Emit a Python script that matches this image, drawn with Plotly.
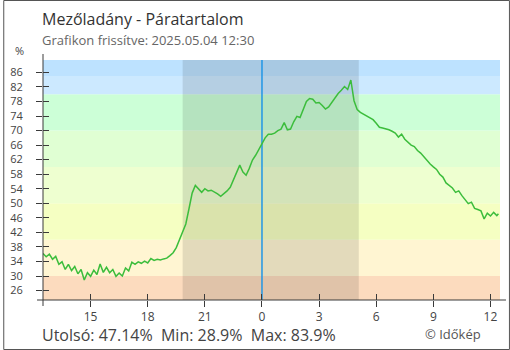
import pandas as pd
import plotly.graph_objects as go

# --- data -------------------------------------------------------------
station = "Mezőladány"
quantity = "Páratartalom"
updated = "2025.05.04 12:30"

series_start = "2025-05-03 12:30"
series_step = "10min"
# relative humidity (%), one reading every 10 minutes
humidity = [
    36.2, 35.3, 36.0,
    34.6, 35.4, 33.2, 33.9, 31.8, 33.2,
    31.5, 32.6, 30.6, 31.8, 28.9, 30.9,
    29.9, 31.6, 30.4, 33.3, 31.0, 32.4,
    30.9, 31.8, 29.9, 30.8, 30.0, 32.2,
    31.4, 33.8, 33.2, 33.9, 33.5, 34.1,
    33.6, 34.8, 34.3, 34.6, 34.4, 34.7,
    34.9, 35.6, 36.4, 37.8, 40.0, 41.8,
    44.3, 48.5, 52.8, 54.9, 53.8, 53.0,
    54.0, 53.4, 53.6, 53.2, 52.6, 51.9,
    52.6, 53.4, 54.4, 56.4, 58.6, 60.5,
    58.6, 57.7, 59.6, 61.9, 63.2, 64.8,
    66.6, 68.0, 69.0, 69.0, 69.3, 70.0,
    70.4, 72.2, 70.2, 70.4, 72.4, 73.9,
    73.6, 75.6, 78.0, 78.8, 78.6, 77.6,
    77.7, 76.9, 75.9, 76.5, 77.8, 79.2,
    80.2, 81.1, 82.1, 81.3, 83.9, 78.2,
    75.8, 75.0, 74.5, 74.1, 73.6, 73.0,
    72.0, 70.9, 70.7, 70.5, 70.2, 69.8,
    69.3, 68.2, 69.0, 67.6, 66.8, 66.0,
    65.6, 64.5, 63.8, 62.8, 61.5, 60.8,
    60.0, 59.3, 58.0, 57.2, 55.6, 54.8,
    54.2, 53.0, 53.4, 52.1, 51.0, 49.9,
    50.3, 48.6, 48.3, 47.9, 45.7, 47.3,
    46.5, 47.5, 46.6,
]
last_time = "2025-05-04 12:25"
last_value = 47.14

sunset = "2025-05-03 19:50"
sunrise = "2025-05-04 05:05"
midnight = "2025-05-04 00:00"

x_range = ["2025-05-03 12:30", "2025-05-04 12:30"]
y_range = [23.4, 89.4]
tick_times = ["2025-05-03 15:00", "2025-05-03 18:00", "2025-05-03 21:00",
              "2025-05-04 00:00", "2025-05-04 03:00", "2025-05-04 06:00",
              "2025-05-04 09:00", "2025-05-04 12:00"]
tick_labels = ["15", "18", "21", "0", "3", "6", "9", "12"]
y_tick0, y_dtick = 26, 4

# humidity bands (upper limits) and their fills, bottom to top
band_limits = [30, 40, 50, 60, 70, 80, 85]
band_colors = ["#fcdbbe", "#fff5d2", "#f5ffc2", "#eeffd0",
               "#e0ffd3", "#ccffd7", "#cce9ff", "#bde2ff"]

# --- figure -----------------------------------------------------------
times = list(pd.date_range(series_start, periods=len(humidity), freq=series_step))
times.append(pd.Timestamp(last_time))
values = humidity + [last_value]

FONT = "Open Sans, Noto Sans, DejaVu Sans, sans-serif"
AXIS = "#3a3a3a"
W, H = 510, 350
ML, MR, MT, MB = 40, 10, 60, 50
PW, PH = W - ML - MR, H - MT - MB


def px_x(px):
    return (px - ML) / PW


def px_y(py):
    return (MT + PH - py) / PH


fig = go.Figure()
fig.add_trace(go.Scatter(
    x=times, y=values, mode="lines",
    line=dict(color="#3cbd3c", width=1.5),
    showlegend=False, hoverinfo="skip",
))
# empty trace so the overlay axes (inner tick marks) get drawn
fig.add_trace(go.Scatter(x=[], y=[], xaxis="x2", yaxis="y2",
                         showlegend=False, hoverinfo="skip"))

shapes = []
lows = [y_range[0]] + band_limits
highs = band_limits + [y_range[1]]
for lo, hi, col in zip(lows, highs, band_colors):
    shapes.append(dict(type="rect", xref="paper", yref="y", x0=0, x1=1,
                       y0=lo, y1=hi, fillcolor=col, line_width=0, layer="below"))
# night
shapes.append(dict(type="rect", xref="x", yref="paper", x0=sunset, x1=sunrise,
                   y0=0, y1=1, fillcolor="rgba(0,0,0,0.11)", line_width=0,
                   layer="below"))
# midnight marker
shapes.append(dict(type="line", xref="x", yref="paper", x0=midnight, x1=midnight,
                   y0=0, y1=1, line=dict(color="#2196e6", width=1.5),
                   layer="below"))
# axis lines, running a little past the plot area
ext_x, ext_y = 6 / PW, 6 / PH
shapes.append(dict(type="line", xref="paper", yref="paper", x0=-ext_x, x1=1 + ext_x,
                   y0=0, y1=0, line=dict(color=AXIS, width=1)))
shapes.append(dict(type="line", xref="paper", yref="paper", x0=0, x1=0,
                   y0=-ext_y, y1=1 + ext_y, line=dict(color=AXIS, width=1)))
# outer frame
shapes.append(dict(type="rect", xref="paper", yref="paper",
                   x0=px_x(0.5), x1=px_x(W - 0.5), y0=px_y(H - 0.5), y1=px_y(0.5),
                   line=dict(color="#555555", width=1), fillcolor="rgba(0,0,0,0)"))

stats = "\u00a0\u00a0".join([
    f"Utolsó: {values[-1]:g}%",
    f"Min: {min(values):g}%",
    f"Max: {max(values):g}%",
]).replace(" ", "\u00a0")

annotations = [
    dict(text=f"{station} - {quantity}", x=0, y=px_y(19), xanchor="left",
         yanchor="middle", xshift=-2, font=dict(size=16, color="#333333")),
    dict(text=f"Grafikon frissítve: {updated}", x=0, y=px_y(40.5), xanchor="left",
         yanchor="middle", xshift=-2, font=dict(size=13, color="#666666")),
    dict(text="%", x=px_x(16.7), y=px_y(51), xanchor="center", yanchor="middle",
         font=dict(size=11, color="#444444")),
    dict(text=stats, x=0, y=px_y(334.5), xanchor="left", yanchor="middle",
         xshift=-2, font=dict(size=16, color="#444444")),
    dict(text="© Időkép", x=px_x(482), y=px_y(333.5), xanchor="right",
         yanchor="middle", font=dict(size=13, color="#555555")),
]
for a in annotations:
    a.update(xref="paper", yref="paper", showarrow=False, borderpad=0)

tick_style = dict(ticklen=6, tickwidth=1, tickcolor=AXIS)

fig.update_layout(
    width=W, height=H, autosize=False,
    margin=dict(l=ML, r=MR, t=MT, b=MB, pad=0),
    paper_bgcolor="white", plot_bgcolor="white",
    font=dict(family=FONT, color="#444444"),
    shapes=shapes, annotations=annotations,
    xaxis=dict(type="date", range=x_range, tickmode="array",
               tickvals=tick_times, ticktext=tick_labels, ticks="outside",
               showgrid=False, zeroline=False, showline=False,
               tickfont=dict(size=12, color="#444444"), **tick_style),
    yaxis=dict(range=y_range, tickmode="linear", tick0=y_tick0, dtick=y_dtick,
               ticks="outside", showgrid=False, zeroline=False, showline=False,
               ticklabelstandoff=11,
               tickfont=dict(size=11, color="#444444"), **tick_style),
    xaxis2=dict(type="date", range=x_range, overlaying="x", tickmode="array",
                tickvals=tick_times, ticks="inside", showticklabels=False,
                showgrid=False, zeroline=False, showline=False, **tick_style),
    yaxis2=dict(range=y_range, overlaying="y", tickmode="linear", tick0=y_tick0,
                dtick=y_dtick, ticks="inside", showticklabels=False,
                showgrid=False, zeroline=False, showline=False, **tick_style),
    showlegend=False,
)

fig.write_html("out.html")
